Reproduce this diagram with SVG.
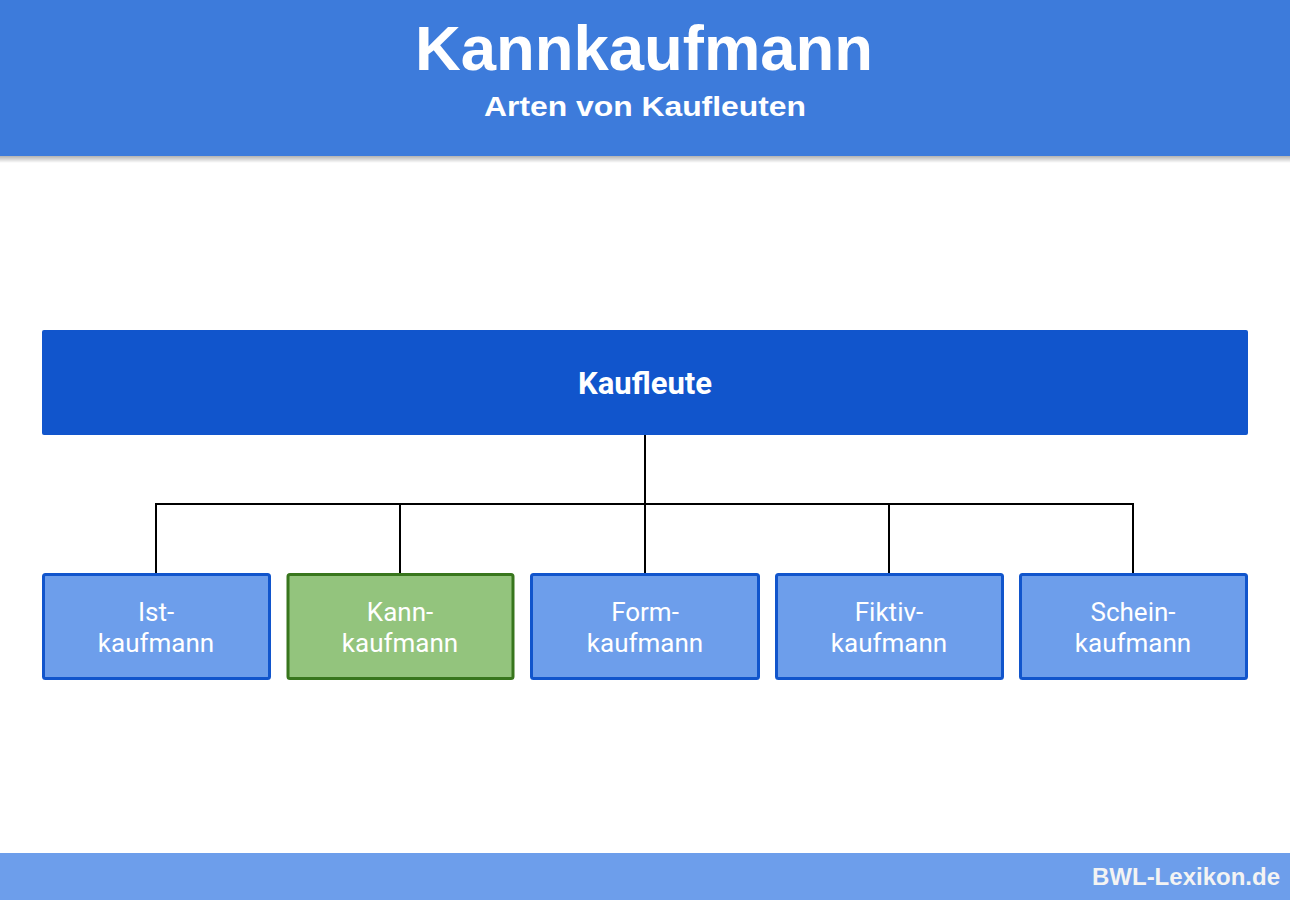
<svg xmlns="http://www.w3.org/2000/svg" width="1290" height="900" viewBox="0 0 1290 900">
<defs>
<linearGradient id="shadow" x1="0" y1="0" x2="0" y2="1">
<stop offset="0" stop-color="#000" stop-opacity="0.3"/>
<stop offset="1" stop-color="#000" stop-opacity="0"/>
</linearGradient>
</defs>
<style>
.title{font-family:"Liberation Sans",Arial,sans-serif;font-weight:bold;fill:#fff;text-anchor:middle}
.root{fill:#1155CC}
.child{fill:#6D9EEB;stroke:#1155CC;stroke-width:3}
.hl{fill:#93C47D;stroke:#38761D;stroke-width:3}
.lbl{font-family:Roboto,"Liberation Sans",sans-serif;font-size:26px;fill:#fff;text-anchor:middle}
.conn{stroke:#000;stroke-width:2;fill:none}
</style>
<rect width="1290" height="900" fill="#fff"/>
<g id="header">
<rect x="0" y="0" width="1290" height="156" fill="#3D7BDB"/>
<rect x="0" y="156" width="1290" height="7" fill="url(#shadow)"/>
<text class="title" x="644" y="70" font-size="63" textLength="458" lengthAdjust="spacingAndGlyphs">Kannkaufmann</text>
<text class="title" x="645" y="116" font-size="28" textLength="322" lengthAdjust="spacingAndGlyphs">Arten von Kaufleuten</text>
</g>
<g id="connectors">
<line class="conn" x1="645" y1="435" x2="645" y2="504" stroke-width="3"/>
<polyline class="conn" points="156,574 156,504 1133,504 1133,574"/>
<line class="conn" x1="400" y1="504" x2="400" y2="574"/>
<line class="conn" x1="645" y1="504" x2="645" y2="574"/>
<line class="conn" x1="889" y1="504" x2="889" y2="574"/>
</g>
<g id="kaufleute">
<rect class="root" x="42" y="330" width="1206" height="105" rx="2"/>
<text x="645" y="394" font-family="Roboto,'Liberation Sans',sans-serif" font-weight="bold" font-size="31" fill="#fff" text-anchor="middle">Kaufleute</text>
</g>
<g id="istkaufmann">
<rect class="child" x="43.5" y="574.5" width="226" height="104" rx="2"/>
<text class="lbl" x="156" y="621">Ist-</text>
<text class="lbl" x="156" y="652">kaufmann</text>
</g>
<g id="kannkaufmann">
<rect class="hl" x="288" y="574.5" width="225" height="104" rx="2"/>
<text class="lbl" x="400" y="621">Kann-</text>
<text class="lbl" x="400" y="652">kaufmann</text>
</g>
<g id="formkaufmann">
<rect class="child" x="531.5" y="574.5" width="227" height="104" rx="2"/>
<text class="lbl" x="645" y="621">Form-</text>
<text class="lbl" x="645" y="652">kaufmann</text>
</g>
<g id="fiktivkaufmann">
<rect class="child" x="776.5" y="574.5" width="226" height="104" rx="2"/>
<text class="lbl" x="889" y="621">Fiktiv-</text>
<text class="lbl" x="889" y="652">kaufmann</text>
</g>
<g id="scheinkaufmann">
<rect class="child" x="1020.5" y="574.5" width="226" height="104" rx="2"/>
<text class="lbl" x="1133" y="621">Schein-</text>
<text class="lbl" x="1133" y="652">kaufmann</text>
</g>
<g id="footer">
<rect x="0" y="853" width="1290" height="47" fill="#6D9EEB"/>
<text x="1280" y="885" font-family="'Liberation Sans',Arial,sans-serif" font-weight="bold" font-size="24" fill="#F3F3F3" text-anchor="end">BWL-Lexikon.de</text>
</g>
</svg>
